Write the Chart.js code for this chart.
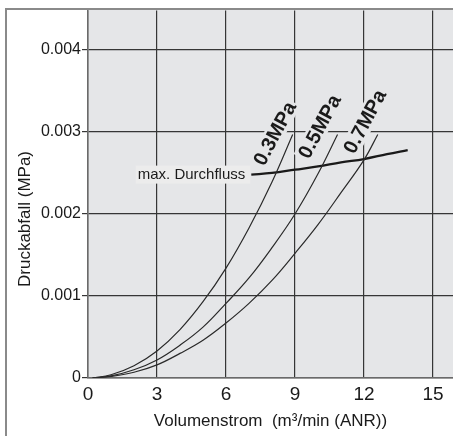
<!DOCTYPE html>
<html>
<head>
<meta charset="utf-8">
<script src="https://cdn.jsdelivr.net/npm/chart.js@4"></script>
<style>
  body { margin: 0; background: #fff; }
  canvas { display: block; }
</style>
</head>
<body>
<canvas id="chart" width="453" height="436"></canvas>
<script>
// Werte (x: m3/min, y: MPa)
const xTicks = [0, 3, 6, 9, 12, 15];
const yTicks = [0, 0.001, 0.002, 0.003, 0.004];

const seriesNames = ["0.3MPa", "0.5MPa", "0.7MPa"];

const x03 = [0.2, 1, 2, 3, 4, 5, 6, 7, 8, 8.9];
const y03 = [0, 0.00004, 0.00015, 0.00033, 0.00059, 0.00093, 0.00134, 0.00183, 0.00239, 0.00297];

const x05 = [0.2, 1, 2, 3, 4, 5, 6, 7, 8, 9, 10, 10.85];
const y05 = [0, 0.000025, 0.0001, 0.00022, 0.0004, 0.00062, 0.00091, 0.00122, 0.00159, 0.002, 0.00249, 0.00297];

const x07 = [0.2, 1, 2, 3, 4, 5, 6, 7, 8, 9, 10, 11, 12, 12.6];
const y07 = [0, 0.00002, 0.00007, 0.00016, 0.0003, 0.00046, 0.00067, 0.00091, 0.00119, 0.00152, 0.00187, 0.00226, 0.00266, 0.00297];

const xMax = [7.1, 8, 9, 10, 11, 12, 13, 13.9];
const yMax = [0.00248, 0.0025, 0.00254, 0.00258, 0.00263, 0.00267, 0.00273, 0.00278];

function pts(xs, ys) {
  const out = [];
  for (let i = 0; i < xs.length; i++) {
    out.push({ x: xs[i], y: ys[i] });
  }
  return out;
}

const plotBg = "#e5e6e8";
const gridCol = "#363636";

// Hintergrund, Rahmen und Beschriftungen
const deko = {
  id: "deko",
  beforeDraw(chart) {
    const ctx = chart.ctx;
    const a = chart.chartArea;
    ctx.save();
    ctx.fillStyle = "#fff";
    ctx.fillRect(0, 0, chart.width, chart.height);
    ctx.fillStyle = plotBg;
    ctx.fillRect(a.left, 9, a.right - a.left, a.bottom - 9);
    ctx.strokeStyle = "#8a8a8a";
    ctx.lineWidth = 2;
    ctx.strokeRect(6, 9, chart.width + 10, chart.height + 10);
    ctx.restore();
  },
  beforeDatasetsDraw(chart) {
    const ctx = chart.ctx;
    const xs = chart.scales.x;
    const ys = chart.scales.y;
    ctx.save();

    // Kurvenbeschriftungen (gedreht)
    const offs = [[-18, -1], [-18, -8], [-13, -13]];
    ctx.font = "bold 20px 'Liberation Sans', Arial, sans-serif";
    ctx.textAlign = "center";
    ctx.textBaseline = "middle";
    for (let i = 0; i < 3; i++) {
      const d = chart.data.datasets[i].data;
      const last = d[d.length - 1];
      const px = xs.getPixelForValue(last.x) + offs[i][0];
      const py = ys.getPixelForValue(last.y) + offs[i][1];
      ctx.save();
      ctx.translate(px, py);
      ctx.rotate(-62 * Math.PI / 180);
      const w = ctx.measureText(seriesNames[i]).width;
      ctx.fillStyle = plotBg;
      ctx.fillRect(-w / 2 - 2, -10, w + 4, 20);
      ctx.fillStyle = "#1a1a1a";
      ctx.fillText(seriesNames[i], 0, 1);
      ctx.restore();
    }

    // Beschriftung max. Durchfluss
    const sx = xs.getPixelForValue(xMax[0]);
    const sy = ys.getPixelForValue(yMax[0]);
    ctx.font = "15px 'Liberation Sans', Arial, sans-serif";
    ctx.textAlign = "right";
    const t = "max. Durchfluss";
    const tw = ctx.measureText(t).width;
    ctx.fillStyle = "#ececec";
    ctx.fillRect(sx - tw - 8, sy - 9, tw + 7, 18);
    ctx.fillStyle = "#1a1a1a";
    ctx.fillText(t, sx - 6, sy);

    ctx.restore();
  },
  afterDraw(chart) {
    const ctx = chart.ctx;
    ctx.save();
    ctx.fillStyle = "#1a1a1a";
    ctx.font = "17px 'Liberation Sans', Arial, sans-serif";
    ctx.textAlign = "center";
    ctx.textBaseline = "middle";
    ctx.translate(25, 219);
    ctx.rotate(-Math.PI / 2);
    ctx.fillText("Druckabfall (MPa)", 0, 0);
    ctx.restore();
  }
};

const thin = { borderColor: "#2a2a2a", borderWidth: 1.2 };

new Chart(document.getElementById("chart").getContext("2d"), {
  type: "line",
  data: {
    datasets: [
      { label: seriesNames[0], data: pts(x03, y03), ...thin },
      { label: seriesNames[1], data: pts(x05, y05), ...thin },
      { label: seriesNames[2], data: pts(x07, y07), ...thin },
      { label: "max. Durchfluss", data: pts(xMax, yMax), borderColor: "#1a1a1a", borderWidth: 2.3 },
    ],
  },
  options: {
    responsive: false,
    animation: false,
    devicePixelRatio: 1,
    layout: { padding: 0 },
    elements: {
      point: { radius: 0 },
      line: { tension: 0.4, fill: false },
    },
    plugins: {
      legend: { display: false },
      tooltip: { enabled: false },
    },
    scales: {
      x: {
        type: "linear",
        min: 0,
        max: 15.87,
        afterBuildTicks: (s) => { s.ticks = xTicks.map((v) => ({ value: v })); },
        afterFit: (s) => { s.height = 58; },
        grid: { color: gridCol, lineWidth: 1.2, drawTicks: false },
        border: { color: "#6a6a6a", width: 1.5 },
        ticks: {
          color: "#1a1a1a",
          padding: 5,
          maxRotation: 0,
          font: { family: "'Liberation Sans', Arial, sans-serif", size: 19 },
        },
        title: {
          display: true,
          text: "Volumenstrom  (m³/min (ANR))",
          color: "#1a1a1a",
          padding: { top: 6 },
          font: { family: "'Liberation Sans', Arial, sans-serif", size: 17 },
        },
      },
      y: {
        min: 0,
        max: 0.00448,
        afterBuildTicks: (s) => { s.ticks = yTicks.map((v) => ({ value: v })); },
        afterFit: (s) => { s.width = 88; },
        grid: { color: gridCol, lineWidth: 1.2, drawTicks: true, tickLength: 6 },
        border: { color: "#6a6a6a", width: 1.5 },
        ticks: {
          color: "#1a1a1a",
          padding: 1,
          callback: (v) => (v === 0 ? "0" : v.toFixed(3)),
          font: { family: "'Liberation Sans', Arial, sans-serif", size: 16 },
        },
      },
    },
  },
  plugins: [deko],
});
</script>
</body>
</html>
